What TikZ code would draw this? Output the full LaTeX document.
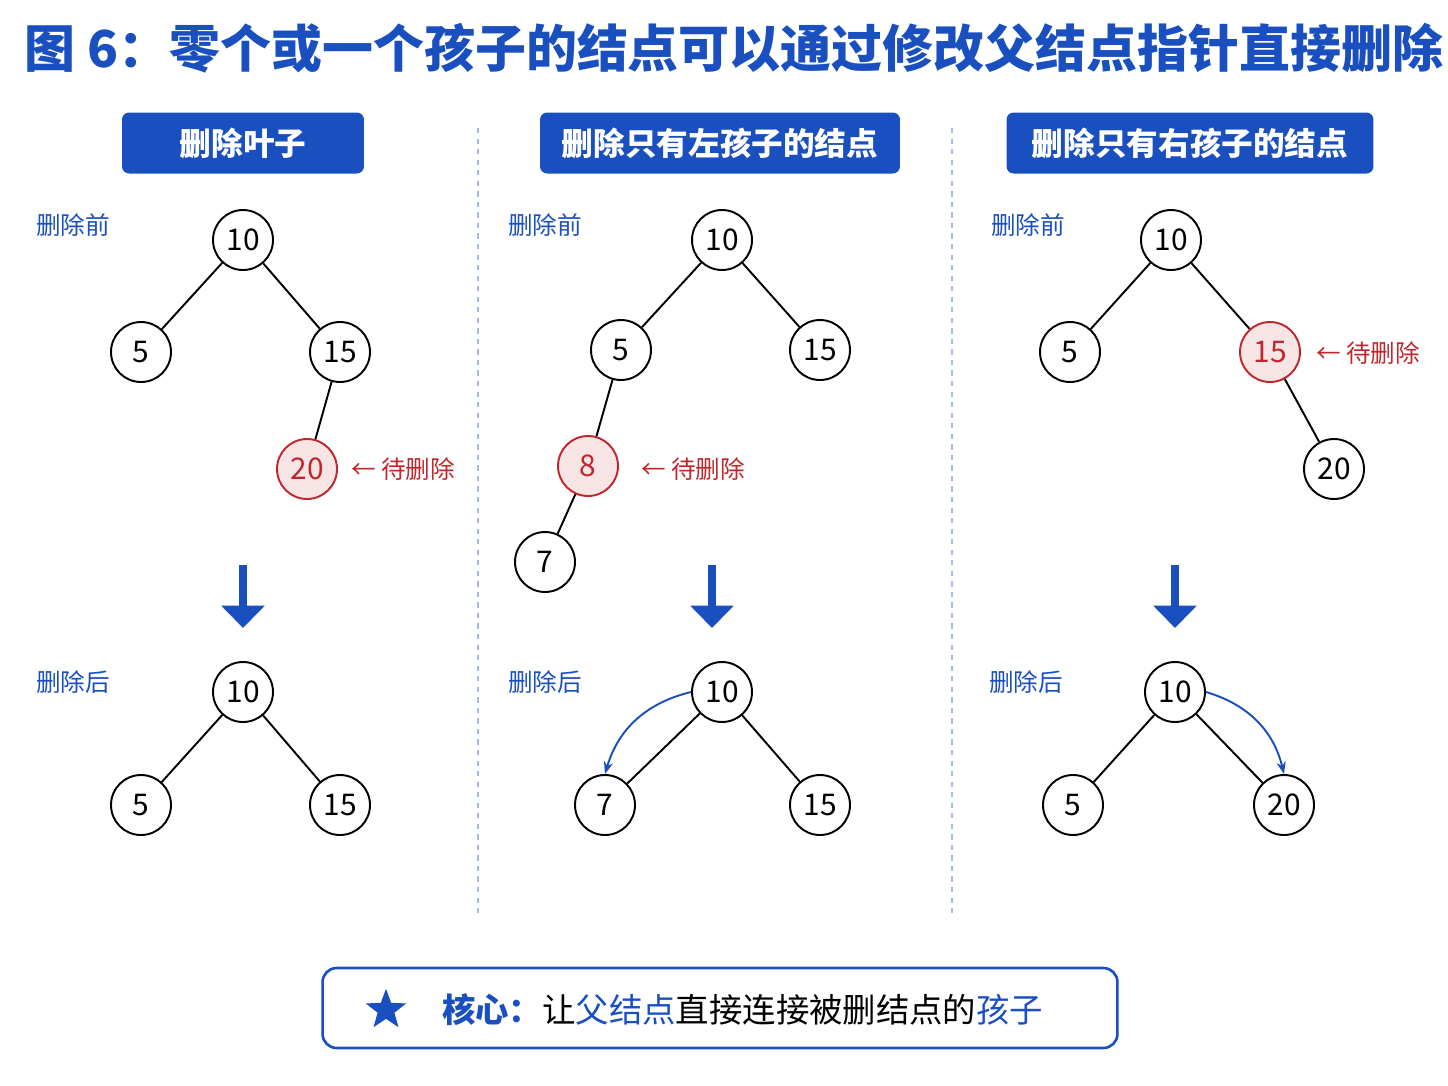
\documentclass[tikz,border=0pt]{standalone}
\usepackage{fontspec}
\setmainfont{Noto Sans CJK SC}
\usetikzlibrary{arrows.meta,shapes.geometric}
\definecolor{mainblue}{HTML}{1A4FC0}
\definecolor{delred}{HTML}{C0272D}
\begin{document}
\begin{tikzpicture}[x=0.02cm,y=-0.02cm,
    tnode/.style={circle,draw,line width=1.1pt,minimum size=1.2cm,inner sep=0pt,font=\fontsize{17}{18}\selectfont},
    delnode/.style={tnode,draw=delred,fill=delred!12,text=delred},
    header/.style={fill=mainblue,rounded corners=4pt,text=white,font=\fontsize{18}{20}\selectfont\bfseries,minimum height=1.22cm},
    tag/.style={text=mainblue,font=\fontsize{14}{16}\selectfont},
    note/.style={text=delred,font=\fontsize{14}{16}\selectfont,anchor=west},
    edge/.style={line width=1.1pt},
    bigarrow/.style={mainblue,line width=0.17cm,-{Triangle[length=0.45cm,width=0.85cm]}},
    bendarrow/.style={mainblue,line width=1.1pt,-{Stealth[length=7pt]}},
    sep/.style={mainblue!40,dashed,line width=0.6pt}]
  \useasboundingbox (0,0) rectangle (1448,1086);

  % title
  \node[text=mainblue,font=\fontsize{29}{32}\selectfont\bfseries] (title) at (734,48) {图 6：零个或一个孩子的结点可以通过修改父结点指针直接删除};

  % separators
  \coordinate (s1a) at (478,128); \coordinate (s1b) at (478,918);
  \coordinate (s2a) at (952,128); \coordinate (s2b) at (952,918);
  \draw[sep] (s1a) -- (s1b);
  \draw[sep] (s2a) -- (s2b);

  % headers
  \node[header,minimum width=4.84cm] (h1) at (243,143) {删除叶子};
  \node[header,minimum width=7.2cm] (h2) at (720,143) {删除只有左孩子的结点};
  \node[header,minimum width=7.34cm] (h3) at (1190,143) {删除只有右孩子的结点};

  % panel 1
  \node[tag] (b1) at (73,225) {删除前};
  \node[tnode] (a10) at (243,240) {10};
  \node[tnode] (a5) at (141,352) {5};
  \node[tnode] (a15) at (340,352) {15};
  \node[delnode] (a20) at (307,469) {20};
  \node[note] (n1) at (345,469) {← 待删除};
  \draw[edge] (a10) -- (a5) (a10) -- (a15) (a15) -- (a20);
  \coordinate (d1a) at (243,565); \coordinate (d1b) at (243,628);
  \draw[bigarrow] (d1a) -- (d1b);
  \node[tag] (c1) at (73,682) {删除后};
  \node[tnode] (e10) at (243,692) {10};
  \node[tnode] (e5) at (141,805) {5};
  \node[tnode] (e15) at (340,805) {15};
  \draw[edge] (e10) -- (e5) (e10) -- (e15);

  % panel 2
  \node[tag] (b2) at (545,225) {删除前};
  \node[tnode] (f10) at (722,240) {10};
  \node[tnode] (f5) at (621,350) {5};
  \node[tnode] (f15) at (820,350) {15};
  \node[delnode] (f8) at (588,466) {8};
  \node[tnode] (f7) at (545,562) {7};
  \node[note] (n2) at (635,469) {← 待删除};
  \draw[edge] (f10) -- (f5) (f10) -- (f15) (f5) -- (f8) (f8) -- (f7);
  \coordinate (d2a) at (712,565); \coordinate (d2b) at (712,628);
  \draw[bigarrow] (d2a) -- (d2b);
  \node[tag] (c2) at (545,682) {删除后};
  \node[tnode] (g10) at (722,692) {10};
  \node[tnode] (g7) at (605,805) {7};
  \node[tnode] (g15) at (820,805) {15};
  \draw[edge] (g10) -- (g7) (g10) -- (g15);
  \draw[bendarrow] (g10.west) to[bend right=30] (g7.north);

  % panel 3
  \node[tag] (b3) at (1028,225) {删除前};
  \node[tnode] (k10) at (1171,240) {10};
  \node[tnode] (k5) at (1070,352) {5};
  \node[delnode] (k15) at (1270,352) {15};
  \node[tnode] (k20) at (1334,469) {20};
  \node[note] (n3) at (1310,353) {← 待删除};
  \draw[edge] (k10) -- (k5) (k10) -- (k15) (k15) -- (k20);
  \coordinate (d3a) at (1175,565); \coordinate (d3b) at (1175,628);
  \draw[bigarrow] (d3a) -- (d3b);
  \node[tag] (c3) at (1026,682) {删除后};
  \node[tnode] (m10) at (1175,692) {10};
  \node[tnode] (m5) at (1073,805) {5};
  \node[tnode] (m20) at (1284,805) {20};
  \draw[edge] (m10) -- (m5) (m10) -- (m20);
  \draw[bendarrow] (m10.east) to[bend left=30] (m20.north);

  % key box
  \node[draw=mainblue,line width=1.5pt,rounded corners=8pt,minimum width=15.9cm,minimum height=1.6cm] (key) at (720,1008) {};
  \node[star,star points=5,star point ratio=2.4,fill=mainblue,minimum size=0.85cm,inner sep=0pt] (star) at (386,1010) {};
  \node[anchor=west,font=\fontsize{19}{21}\selectfont] (keytext) at (436,1010)
    {\textcolor{mainblue}{\bfseries 核心：}让\textcolor{mainblue}{父结点}直接连接被删结点的\textcolor{mainblue}{孩子}};
\end{tikzpicture}
\end{document}
